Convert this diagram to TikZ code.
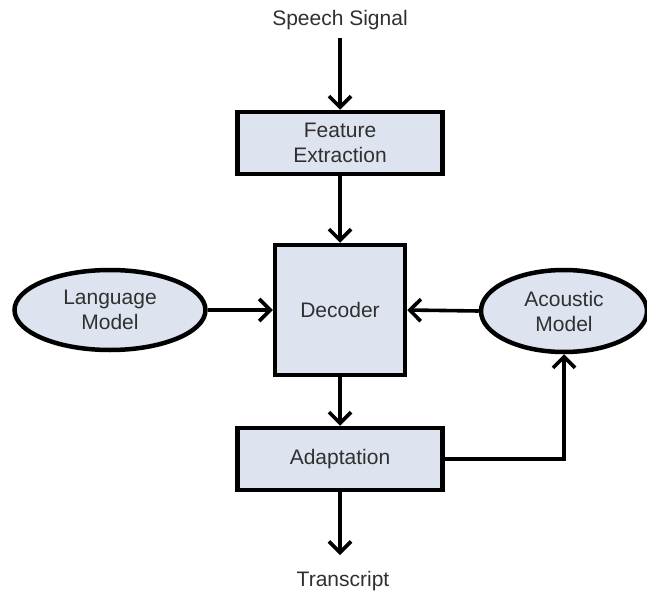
\documentclass[tikz,border=0pt]{standalone}
\usepackage{fontspec}
\setmainfont{Liberation Sans}
\usetikzlibrary{shapes.geometric,arrows.meta}
\definecolor{boxfill}{HTML}{DDE4EF}
\definecolor{txt}{HTML}{303030}
\begin{document}
\begin{tikzpicture}[x=1pt,y=-1pt,
  block/.style={draw=black,line width=4.5pt,fill=boxfill,text=txt,align=center,font=\fontsize{21}{25}\selectfont,inner sep=0pt},
  oval/.style={ellipse,draw=black,line width=4.5pt,fill=boxfill,text=txt,align=center,font=\fontsize{21}{25}\selectfont,inner sep=0pt},
  lbl/.style={text=txt,font=\fontsize{21}{25}\selectfont,inner sep=0pt},
  conn/.style={line width=3.6pt,-{Straight Barb[length=11pt,width=22pt,line width=3.6pt]}}]
\useasboundingbox (0,0) rectangle (647,596);
\node[lbl] (speech) at (340,20) {Speech Signal};
\node[block,minimum width=205pt,minimum height=62pt] (fe) at (340,143) {Feature\\Extraction};
\node[block,minimum width=130pt,minimum height=130pt] (dec) at (340,310) {Decoder};
\node[oval,minimum width=191pt,minimum height=80pt] (lm) at (110,310) {Language\\Model};
\node[oval,minimum width=166pt,minimum height=82pt] (am) at (564,311) {Acoustic\\Model};
\node[block,minimum width=205pt,minimum height=62pt] (ad) at (340,459) {Adaptation};
\node[lbl] (tr) at (343,581) {Transcript};
\coordinate (amcorner) at (am.south |- ad.east);
\draw[conn] (speech.south |- 0,38) -- (fe.north);
\draw[conn] (fe.south) -- (fe.south |- dec.north);
\draw[conn] (lm.east) -- (dec.west);
\draw[conn] (am.west) -- (dec.east);
\draw[conn] (dec.south) -- (dec.south |- ad.north);
\draw[conn] (ad.south) -- (ad.south |- 0,555);
\draw[conn] (ad.east) -- (amcorner) -- (am.south);
\end{tikzpicture}
\end{document}
